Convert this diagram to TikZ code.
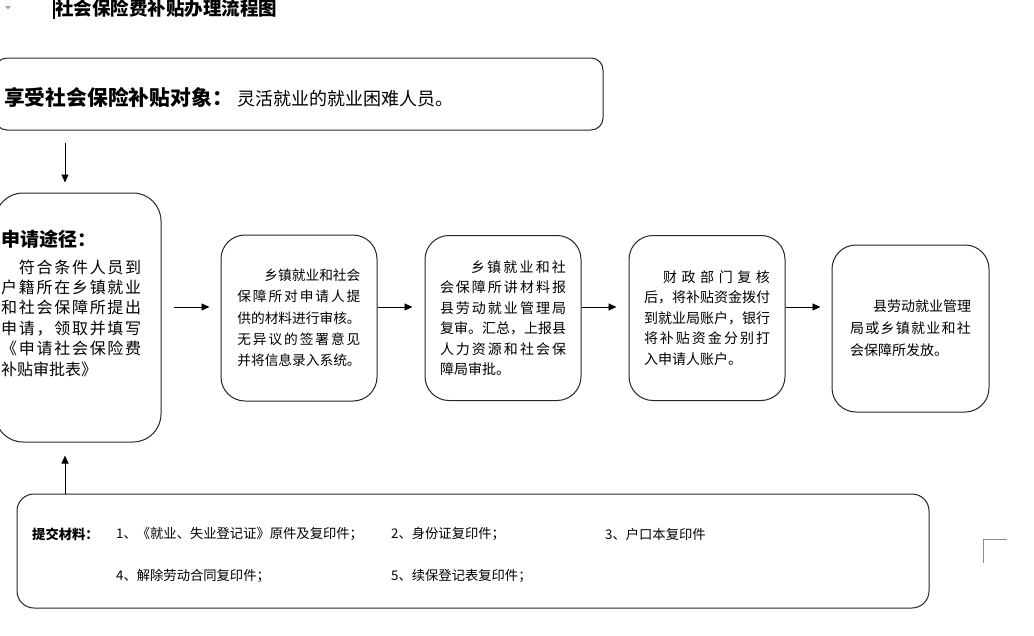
\documentclass[tikz,border=0pt]{standalone}
\usepackage{fontspec}
\setmainfont{Noto Sans CJK SC}
\usetikzlibrary{arrows.meta}
\makeatletter
\def\jl#1#2{\makebox[#1][s]{\jl@a#2\relax}}
\def\jl@a#1{#1\jl@b}
\def\jl@b#1{\ifx\relax#1\else\hfil#1\expandafter\jl@b\fi}
\makeatother
\newcommand\fsz[2]{\fontsize{#1}{#2}\selectfont}
\begin{document}
\begin{tikzpicture}[x=1pt,y=-1pt,
  rbox/.style={draw=black!85, line width=1pt, rounded corners=#1, inner sep=0pt, align=left},
  arr/.style={-{Triangle[length=8pt,width=7pt]}, line width=0.9pt},
  txt/.style={inner sep=0pt, anchor=west, align=left}]
\useasboundingbox (0,0) rectangle (1034,635);
\fill[white] (0,0) rectangle (1034,635);

% Word artefacts
\fill[black!35] (5,6) -- (11,6) -- (8,9.5) -- cycle;
\draw[line width=1.2pt] (54,0) -- (54,19);
\draw[black!45, line width=0.8pt] (1007,539) -- (983,539) -- (983,563);

% title
\node[txt, font=\fsz{18.5}{20}\bfseries] (title) at (55,8) {社会保险费补贴办理流程图};

% top box
\node[rbox=12pt, minimum width=608pt, minimum height=72pt] (top) at (299,94) {};
\node[txt] (toptxt) at (4,97) {{\fsz{20.8}{22}\bfseries 享受社会保险补贴对象：}\hspace{5pt}{\fsz{18}{20}灵活就业的就业困难人员。}};

% box 1
\node[rbox=28pt, minimum width=166pt, minimum height=249pt] (box1) at (78,317.5) {};
\node[txt, font=\fsz{16}{20.4}] (box1txt) at (1,303) {%
{\fsz{19}{20.4}\bfseries 申请途径：}\\[6.6pt]
\jl{140pt}{　符合条件人员到}\\
\jl{140pt}{户籍所在乡镇就业}\\
\jl{140pt}{和社会保障所提出}\\
\jl{140pt}{申请，领取并填写}\\
\jl{140pt}{《申请社会保险费}\\
补贴审批表》};

% box 2
\node[rbox=24pt, minimum width=156pt, minimum height=166pt, font=\fsz{13.7}{21.3}] (box2) at (299,318) {%
\makebox[123pt][r]{乡镇就业和社会}\\
\jl{123pt}{保障所对申请人提}\\
\jl{123pt}{供的材料进行审核。}\\
\jl{123pt}{无异议的签署意见}\\
并将信息录入系统。};

% box 3
\node[rbox=24pt, minimum width=156pt, minimum height=165pt, font=\fsz{14}{20.5}] (box3) at (503,318) {%
\makebox[126pt][r]{\jl{95pt}{乡镇就业和社}}\\
\jl{126pt}{会保障所讲材料报}\\
\jl{126pt}{县劳动就业管理局}\\
\jl{126pt}{复审。汇总，上报县}\\
\jl{126pt}{人力资源和社会保}\\
障局审批。};

% box 4
\node[rbox=24pt, minimum width=156pt, minimum height=165pt, font=\fsz{14}{20.5}] (box4) at (707,318) {%
\makebox[126pt][r]{\jl{107pt}{财政部门复核}}\\
\jl{126pt}{后，将补贴资金拨付}\\
\jl{126pt}{到就业局账户，银行}\\
\jl{126pt}{将补贴资金分别打}\\
入申请人账户。};

% box 5
\node[rbox=24pt, minimum width=157pt, minimum height=167pt, font=\fsz{14}{22}] (box5) at (910.5,328.5) {%
\makebox[121pt][r]{县劳动就业管理}\\
\jl{121pt}{局或乡镇就业和社}\\
会保障所发放。};

% bottom box
\node[rbox=17pt, minimum width=912pt, minimum height=114pt] (bot) at (473,551) {};
\node[txt, font=\fsz{13.3}{15}\bfseries] (m0) at (32,534) {提交材料：};
\node[txt, font=\fsz{13.3}{15}] (m1) at (116,534) {1、《就业、失业登记证》原件及复印件；};
\node[txt, font=\fsz{13.3}{15}] (m2) at (391,534) {2、身份证复印件；};
\node[txt, font=\fsz{13.3}{15}] (m3) at (605,534) {3、户口本复印件};
\node[txt, font=\fsz{13.3}{15}] (m4) at (116,576) {4、解除劳动合同复印件；};
\node[txt, font=\fsz{13.3}{15}] (m5) at (391,576) {5、续保登记表复印件；};

% connectors
\coordinate (ax) at (65,0);
\coordinate (ay) at (0,307);
\draw[arr, shorten <=12pt, shorten >=10pt] (top.south -| ax) -- (box1.north -| ax);
\draw[arr, shorten >=13pt] (bot.north -| ax) -- (box1.south -| ax);
\draw[arr, shorten <=12pt, shorten >=11pt] (box1.east |- ay) -- (box2.west |- ay);
\draw[arr, shorten >=12pt] (box2.east |- ay) -- (box3.west |- ay);
\draw[arr, shorten >=12pt] (box3.east |- ay) -- (box4.west |- ay);
\draw[arr, shorten >=11pt] (box4.east |- ay) -- (box5.west |- ay);
\end{tikzpicture}
\end{document}
